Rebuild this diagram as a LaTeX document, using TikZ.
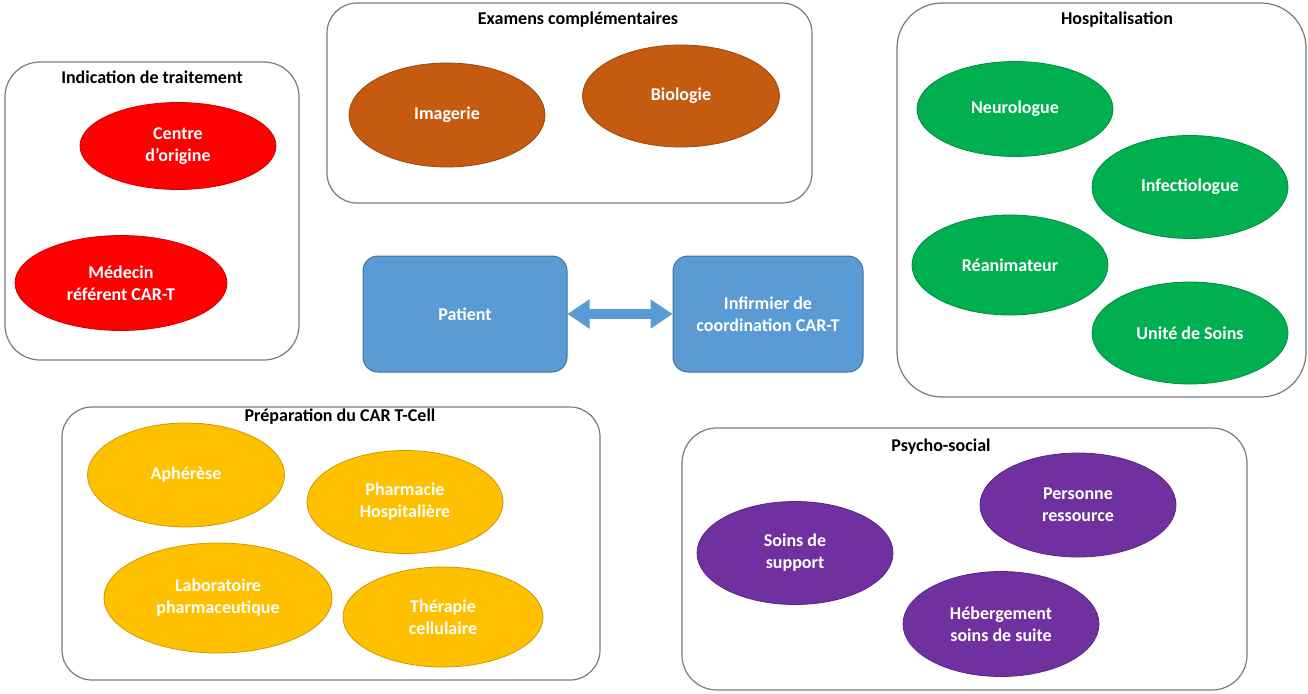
\documentclass[tikz,border=0pt]{standalone}
\usepackage{fontspec}
\setmainfont{Carlito}
\usetikzlibrary{shapes.geometric,arrows.meta}
\definecolor{boxline}{HTML}{6E7E8E}
\definecolor{cred}{HTML}{FF0000}
\definecolor{corange}{HTML}{C55A11}
\definecolor{cgreen}{HTML}{00B050}
\definecolor{cgold}{HTML}{FFC000}
\definecolor{cpurple}{HTML}{7030A0}
\definecolor{cblue}{HTML}{5B9BD5}
\definecolor{cblueline}{HTML}{41719C}
\begin{document}
\begin{tikzpicture}[x=1pt,y=-1pt,
  every node/.style={font=\fontsize{18}{22}\selectfont\bfseries, align=center},
  groupbox/.style={draw=boxline, line width=1.2pt, fill=white, rectangle, rounded corners=#1, inner sep=0pt},
  grouptitle/.style={text=black, inner sep=0pt},
  oval/.style={ellipse, fill=#1, draw=#1!80!black, line width=0.8pt, text=white, inner sep=0pt},
  bluebox/.style={rectangle, rounded corners=15pt, fill=cblue, draw=cblueline, line width=1pt, text=white, inner sep=0pt},
  dblarrow/.style={cblue, line width=10pt, {Triangle[length=22pt,width=28pt]}-{Triangle[length=22pt,width=28pt]}}
]
\useasboundingbox (0,0) rectangle (1308,693);
\fill[white] (0,0) rectangle (1308,693);

% containers
\node[groupbox=35pt, minimum width=294pt, minimum height=298pt] (g1) at (152,211) {};
\node[groupbox=30pt, minimum width=485pt, minimum height=200pt] (g2) at (569.5,103) {};
\node[groupbox=45pt, minimum width=409pt, minimum height=394pt] (g3) at (1101.5,200) {};
\node[groupbox=30pt, minimum width=538pt, minimum height=273pt] (g4) at (331,543.5) {};
\node[groupbox=35pt, minimum width=565pt, minimum height=262pt] (g5) at (964.5,559) {};

% titles
\node[grouptitle] (t1) at (152,77) {Indication de traitement};
\node[grouptitle] (t2) at (578,20) {Examens complémentaires};
\node[grouptitle] (t3) at (1117,20) {Hospitalisation};
\node[grouptitle] (t4) at (340,417) {Préparation du CAR T-Cell};
\node[grouptitle] (t5) at (941,447) {Psycho-social};

% Indication de traitement
\node[oval=cred, minimum width=196pt, minimum height=87pt] (centre) at (178,146) {Centre\\d’origine};
\node[oval=cred, minimum width=212pt, minimum height=95pt] (medecin) at (121,283) {Médecin\\référent CAR-T};

% Examens
\node[oval=corange, minimum width=196pt, minimum height=104pt] (imagerie) at (447,115) {Imagerie};
\node[oval=corange, minimum width=197pt, minimum height=102pt] (biologie) at (681,96) {Biologie};

% Hospitalisation
\node[oval=cgreen, minimum width=196pt, minimum height=95pt] (neuro) at (1015,109) {Neurologue};
\node[oval=cgreen, minimum width=196pt, minimum height=103pt] (infect) at (1190,187) {Infectiologue};
\node[oval=cgreen, minimum width=196pt, minimum height=100pt] (reanim) at (1010,265) {Réanimateur};
\node[oval=cgreen, minimum width=196pt, minimum height=102pt] (unite) at (1190,333) {Unité de Soins};

% Préparation
\node[oval=cgold, minimum width=197pt, minimum height=104pt] (apherese) at (186,475) {Aphérèse};
\node[oval=cgold, minimum width=196pt, minimum height=103pt] (pharma) at (405,502) {Pharmacie\\Hospitalière};
\node[oval=cgold, minimum width=228pt, minimum height=110pt] (labo) at (218,598) {Laboratoire\\pharmaceutique};
\node[oval=cgold, minimum width=200pt, minimum height=100pt] (therapie) at (443,617) {Thérapie\\cellulaire};

% Psycho-social
\node[oval=cpurple, minimum width=196pt, minimum height=103pt] (soins) at (795,553) {Soins de\\support};
\node[oval=cpurple, minimum width=196pt, minimum height=104pt] (personne) at (1078,505) {Personne\\ressource};
\node[oval=cpurple, minimum width=196pt, minimum height=105pt] (heberg) at (1001,624) {Hébergement\\soins de suite};

% centre
\node[bluebox, minimum width=204pt, minimum height=116pt] (patient) at (465,314) {Patient};
\node[bluebox, minimum width=190pt, minimum height=116pt] (infirmier) at (768,314) {Infirmier de\\coordination CAR-T};
\draw[dblarrow] (patient.east) -- (infirmier.west);
\end{tikzpicture}
\end{document}
